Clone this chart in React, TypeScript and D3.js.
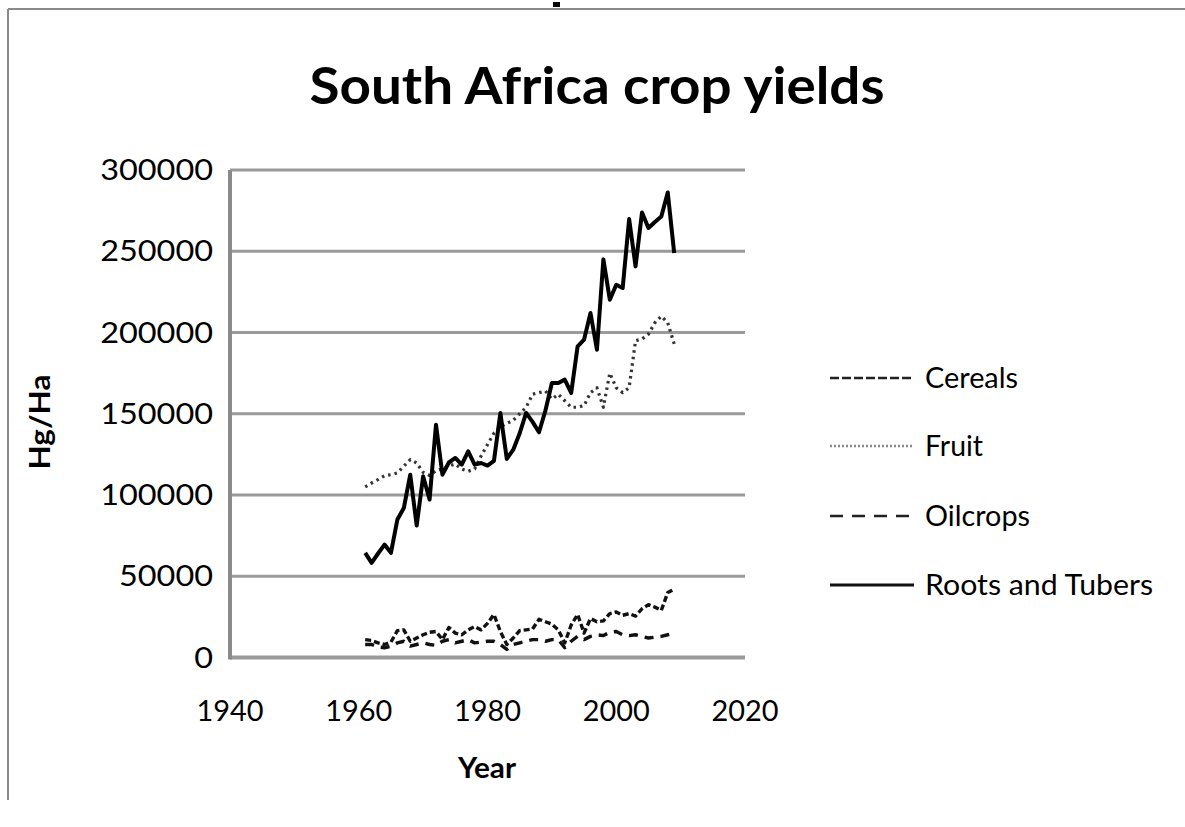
import React from "react";
import * as d3 from "d3";

const years = [
  1961, 1962, 1963, 1964, 1965, 1966, 1967, 1968, 1969, 1970,
  1971, 1972, 1973, 1974, 1975, 1976, 1977, 1978, 1979, 1980,
  1981, 1982, 1983, 1984, 1985, 1986, 1987, 1988, 1989, 1990,
  1991, 1992, 1993, 1994, 1995, 1996, 1997, 1998, 1999, 2000,
  2001, 2002, 2003, 2004, 2005, 2006, 2007, 2008, 2009,
];

const cereals = [
  11000, 10500, 9000, 8000, 9500, 16500, 17000, 10000, 12000, 14000,
  15500, 16000, 11000, 18500, 15000, 14000, 17000, 19000, 17000, 21000,
  26500, 16000, 8000, 12000, 16500, 17000, 17500, 23500, 22000, 20500,
  17000, 9000, 20000, 26500, 15000, 24000, 22000, 22500, 27000, 28000,
  26000, 27000, 25500, 30000, 32500, 31000, 29000, 40000, 42000,
];

const fruit = [
  105000, 107400, 109500, 111900, 112500, 113600, 117700, 121800, 119700, 114000,
  112000, 115000, 116000, 118000, 119000, 116000, 114600, 116000, 124000, 131000,
  138000, 142000, 144000, 146000, 150000, 154000, 162000, 163000, 164000, 159000,
  162000, 158000, 154000, 154000, 155000, 163000, 166000, 154000, 175000, 166000,
  163000, 166000, 195000, 196000, 199000, 206000, 210000, 206000, 193000,
];

const oilcrops = [
  8000, 8000, 6500, 6000, 7000, 9000, 10000, 7000, 8000, 9000,
  8000, 7500, 10000, 11000, 9000, 10000, 11000, 9000, 9500, 10000,
  10000, 8000, 5000, 8000, 9000, 10000, 11000, 11000, 10000, 11000,
  11000, 6000, 10000, 13000, 11000, 13000, 14000, 13500, 15500, 16000,
  14000, 13500, 14000, 13000, 12000, 12500, 13000, 14000, 15000,
];

const rootsAndTubers = [
  64400, 58200, 64000, 69500, 64400, 84900, 92000, 112500, 81200, 111500,
  97200, 143300, 112500, 120000, 122800, 118700, 126900, 118700, 119700, 118100,
  121000, 150500, 122200, 127900, 138000, 150500, 145000, 138600, 152000, 168900,
  168900, 171000, 162800, 191500, 195600, 212000, 189400, 245000, 220200, 229400,
  227400, 269800, 240700, 273900, 264300, 268000, 271400, 286200, 248900,
];

const xTicks = [1940, 1960, 1980, 2000, 2020];
const yTicks = [0, 50000, 100000, 150000, 200000, 250000, 300000];

const seriesNames = ["Cereals", "Fruit", "Oilcrops", "Roots and Tubers"];

const FONT = "Lato, 'Open Sans', sans-serif";

export default function App() {
  const x = d3.scaleLinear().domain([1940, 2020]).range([230, 745]);
  const y = d3.scaleLinear().domain([0, 300000]).range([657.5, 170]);

  const series = [
    { name: seriesNames[0], values: cereals, dash: "6,3", width: 3.4, color: "#111" },
    { name: seriesNames[1], values: fruit, dash: "2.5,4", width: 3.2, color: "#333" },
    { name: seriesNames[2], values: oilcrops, dash: "9,7", width: 3.4, color: "#111" },
    { name: seriesNames[3], values: rootsAndTubers, dash: "none", width: 4, color: "#000" },
  ];

  const line = d3
    .line<[number, number]>()
    .x((d) => x(d[0]))
    .y((d) => y(d[1]));

  const legendY = [378, 446, 516, 585];
  const legendDash = ["9,3", "2,2", "13,9", "none"];
  const legendColor = ["#222", "#888", "#222", "#111"];
  const legendWidth = [2.5, 2.5, 2.5, 3];
  const legendText = [93, 58, 105, 228];

  return (
    <div style={{ position: "absolute", left: 0, top: 0 }}>
      <svg width={1185} height={827} style={{ display: "block", background: "#fff" }}>
        {/* outer frame */}
        <line x1={8} y1={9} x2={1185} y2={9} stroke="#8a8a8a" strokeWidth={2} />
        <line x1={8} y1={9} x2={8} y2={800} stroke="#8a8a8a" strokeWidth={2} />
        <rect x={553} y={2} width={7} height={5} fill="#000" />

        {/* title */}
        <text
          x={597}
          y={104}
          textAnchor="middle"
          fontFamily={FONT}
          fontWeight="bold"
          fontSize={52}
          textLength={575}
          lengthAdjust="spacingAndGlyphs"
        >
          South Africa crop yields
        </text>

        {/* grid lines */}
        {yTicks.map((t) => (
          <line
            key={"g" + t}
            x1={x(1940)}
            x2={x(2020)}
            y1={y(t)}
            y2={y(t)}
            stroke="#9a9a9a"
            strokeWidth={t === 0 ? 4 : 3}
          />
        ))}
        {/* y axis */}
        <line x1={x(1940)} x2={x(1940)} y1={y(300000)} y2={y(0) + 2} stroke="#8a8a8a" strokeWidth={4} />

        {/* y tick labels */}
        {yTicks.map((t) => (
          <text
            key={"yl" + t}
            x={213}
            y={y(t) + 10}
            textAnchor="end"
            fontFamily={FONT}
            fontSize={29}
            textLength={String(t).length * 18.8}
            lengthAdjust="spacingAndGlyphs"
          >
            {t}
          </text>
        ))}

        {/* x tick labels */}
        {xTicks.map((t) => (
          <text
            key={"xl" + t}
            x={x(t)}
            y={721}
            textAnchor="middle"
            fontFamily={FONT}
            fontSize={29}
            textLength={67}
            lengthAdjust="spacingAndGlyphs"
          >
            {t}
          </text>
        ))}

        {/* axis titles */}
        <text
          x={487}
          y={778}
          textAnchor="middle"
          fontFamily={FONT}
          fontWeight="bold"
          fontSize={29}
          textLength={58}
          lengthAdjust="spacingAndGlyphs"
        >
          Year
        </text>
        <text
          transform="translate(50,422) rotate(-90)"
          textAnchor="middle"
          fontFamily={FONT}
          fontWeight="bold"
          fontSize={29}
          textLength={95}
          lengthAdjust="spacingAndGlyphs"
        >
          Hg/Ha
        </text>

        {/* series */}
        {series.map((s) => (
          <path
            key={s.name}
            d={line(years.map((yr, i) => [yr, s.values[i]] as [number, number])) || ""}
            fill="none"
            stroke={s.color}
            strokeWidth={s.width}
            strokeDasharray={s.dash}
            strokeLinejoin="round"
          />
        ))}

        {/* legend */}
        {series.map((s, i) => (
          <g key={"lg" + s.name}>
            <line
              x1={830}
              x2={914}
              y1={legendY[i]}
              y2={legendY[i]}
              stroke={legendColor[i]}
              strokeWidth={legendWidth[i]}
              strokeDasharray={legendDash[i]}
            />
            <text
              x={925}
              y={legendY[i] + 10}
              fontFamily={FONT}
              fontSize={29}
              textLength={legendText[i]}
              lengthAdjust="spacingAndGlyphs"
            >
              {s.name}
            </text>
          </g>
        ))}
      </svg>
    </div>
  );
}
